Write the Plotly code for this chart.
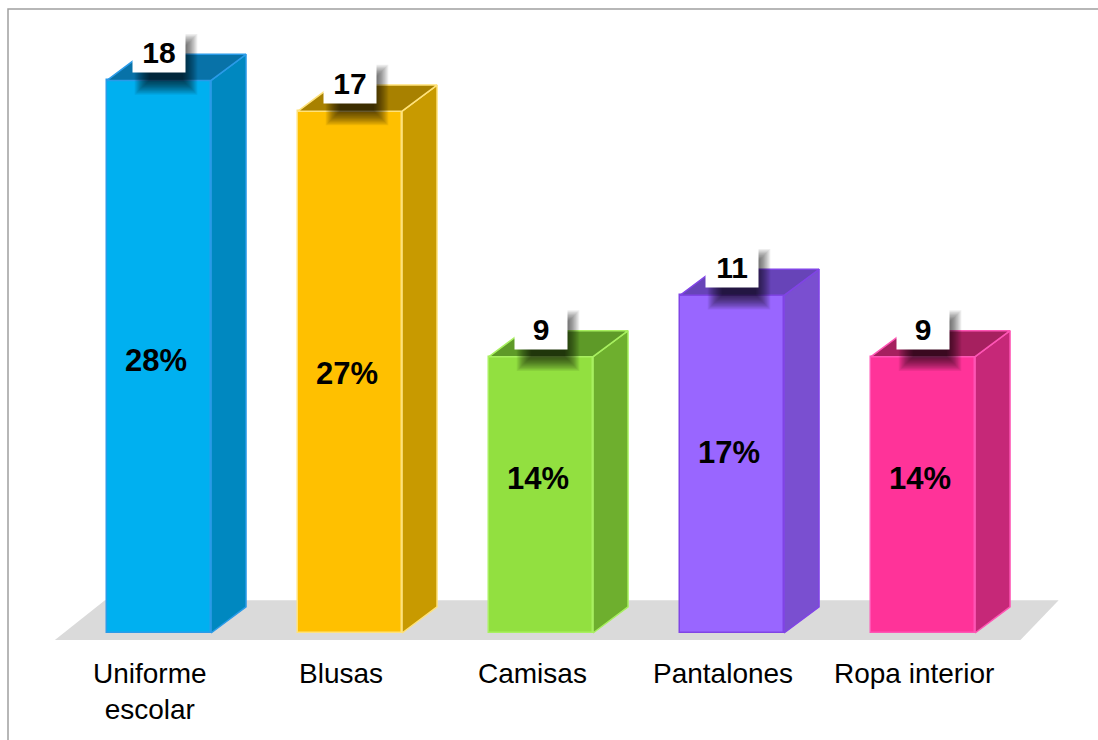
import plotly.graph_objects as go

# Prendas y cantidades
categorias = ["Uniforme<br>escolar", "Blusas", "Camisas", "Pantalones", "Ropa interior"]
cantidades = [18, 17, 9, 11, 9]

# Colores por barra: cara frontal, lateral, superior y borde
color_frente = ["#00B0F0", "#FFC000", "#92E040", "#9966FF", "#FF3399"]
color_lado = ["#0088C0", "#C89A00", "#6EAF2E", "#7A4FD0", "#C62878"]
color_tapa = ["#0872A8", "#A88100", "#5E9A28", "#6744B8", "#A6205F"]
color_borde = ["#2A9BE8", "#FFE27A", "#A8F060", "#8044E6", "#FF55B5"]

total = sum(cantidades)
porcentajes = [f"{round(v / total * 100)}%" for v in cantidades]

# Geometría de la perspectiva (en unidades de los ejes)
ANCHO = 0.545
PROF_X = 0.183
PROF_Y = 0.85

fig = go.Figure()

# Caras frontales
xs = list(range(len(cantidades)))
fig.add_trace(go.Bar(
    x=xs, y=cantidades, width=ANCHO,
    marker=dict(color=color_frente, line=dict(color=color_borde, width=1.5)),
    hoverinfo="skip", showlegend=False))

# Caras laterales y superiores
for i, v in enumerate(cantidades):
    x0, x1 = i - ANCHO / 2, i + ANCHO / 2
    fig.add_trace(go.Scatter(
        x=[x1, x1 + PROF_X, x1 + PROF_X, x1, x1],
        y=[0, PROF_Y, v + PROF_Y, v, 0],
        fill="toself", fillcolor=color_lado[i], mode="lines",
        line=dict(color=color_borde[i], width=1.5),
        hoverinfo="skip", showlegend=False))
    fig.add_trace(go.Scatter(
        x=[x0, x1, x1 + PROF_X, x0 + PROF_X, x0],
        y=[v, v, v + PROF_Y, v + PROF_Y, v],
        fill="toself", fillcolor=color_tapa[i], mode="lines",
        line=dict(color=color_borde[i], width=1.5),
        hoverinfo="skip", showlegend=False))

shapes = []
annotations = []

# Piso gris, debajo de las barras
piso_y0, piso_y1 = -0.23, 1.07
px0, px1, pdx = -0.545, 4.51, 0.2
shapes.append(dict(
    type="path", xref="x", yref="y", layer="below",
    path=(f"M {px0},{piso_y0} L {px1},{piso_y0} L {px1 + pdx},{piso_y1} "
          f"L {px0 + 0.262},{piso_y1} Z"),
    fillcolor="#DADADA", line=dict(width=0)))

for i, v in enumerate(cantidades):
    # Sombra difusa detrás de la etiqueta del valor (capas superpuestas)
    for k in range(14):
        e = k * 1.1
        shapes.append(dict(
            type="rect", layer="above", line=dict(width=0),
            fillcolor="rgba(0,0,0,0.065)",
            xref="x", xsizemode="pixel", xanchor=i,
            x0=-10 - e, x1=24 + e,
            yref="y", ysizemode="pixel", yanchor=v + PROF_Y,
            y0=-26 - e, y1=6 + e))
    annotations.append(dict(
        x=i, y=v + PROF_Y, xref="x", yref="y", text=f"<b>{v}</b>",
        showarrow=False, bgcolor="#FFFFFF", width=50, height=38, yshift=2,
        font=dict(family="Liberation Sans, Arial", size=30, color="#000000")))
    # Porcentaje dentro de la barra
    annotations.append(dict(
        x=i, y=0.43 * v + 1.15, xref="x", yref="y", text=f"<b>{porcentajes[i]}</b>",
        showarrow=False, xshift=-3,
        font=dict(family="Liberation Sans, Arial", size=31, color="#000000")))
    # Nombre de la categoría
    annotations.append(dict(
        x=i, y=-0.75, xref="x", yref="y", text=categorias[i],
        showarrow=False, xshift=-9, yanchor="top", align="center",
        font=dict(family="Liberation Sans, Arial", size=28, color="#000000")))

# Marco del área del gráfico
shapes.append(dict(
    type="rect", xref="paper", yref="paper",
    x0=8 / 1098, x1=1.02, y0=-0.02, y1=1 - 9 / 740,
    line=dict(color="#A0A0A0", width=1.5), layer="above"))

fig.update_layout(
    width=1098, height=740,
    margin=dict(l=0, r=0, t=0, b=0),
    paper_bgcolor="#FFFFFF", plot_bgcolor="#FFFFFF",
    xaxis=dict(range=[-0.8325, 4.916], visible=False, fixedrange=True),
    yaxis=dict(range=[-3.485, 20.62], visible=False, fixedrange=True),
    shapes=shapes, annotations=annotations,
    showlegend=False, bargap=0,
)

fig.write_html("out.html")
